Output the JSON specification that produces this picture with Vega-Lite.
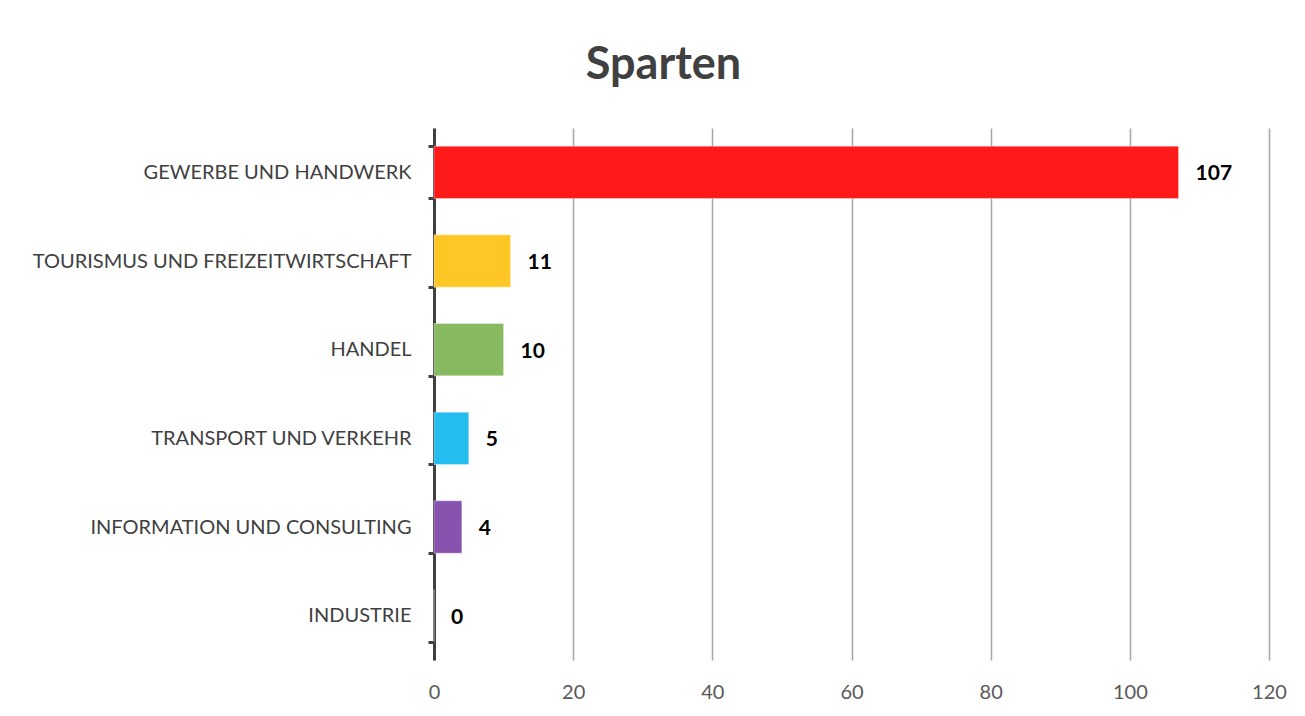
{
  "$schema": "https://vega.github.io/schema/vega-lite/v6.json",
  "autosize": {"type": "none"},
  "padding": {"left": 434, "top": 128, "right": 36, "bottom": 56},
  "width": 835,
  "height": 532,
  "background": "white",
  "title": {
    "text": "Sparten",
    "font": "Lato",
    "fontSize": 45,
    "fontWeight": "bold",
    "color": "#404040",
    "anchor": "middle",
    "dx": -188,
    "offset": 30
  },
  "config": {
    "view": {"stroke": null},
    "font": "Lato"
  },
  "data": {
    "values": [
      {"sparte": "GEWERBE UND HANDWERK", "anzahl": 107, "farbe": "#FF1A1A"},
      {"sparte": "TOURISMUS UND FREIZEITWIRTSCHAFT", "anzahl": 11, "farbe": "#FFC726"},
      {"sparte": "HANDEL", "anzahl": 10, "farbe": "#87B961"},
      {"sparte": "TRANSPORT UND VERKEHR", "anzahl": 5, "farbe": "#25BDEF"},
      {"sparte": "INFORMATION UND CONSULTING", "anzahl": 4, "farbe": "#8751AE"},
      {"sparte": "INDUSTRIE", "anzahl": 0, "farbe": "#8751AE"}
    ]
  },
  "encoding": {
    "y": {
      "field": "sparte",
      "type": "nominal",
      "sort": null,
      "scale": {"paddingInner": 0.41, "paddingOuter": 0.205},
      "axis": {
        "title": null,
        "domainColor": "#404040",
        "domainWidth": 3,
        "tickColor": "#404040",
        "tickWidth": 3,
        "tickSize": 6,
        "tickBand": "extent",
        "labelFont": "Lato",
        "labelFontSize": 20,
        "labelColor": "#404040",
        "labelPadding": 17,
        "labelLimit": 500,
        "grid": false
      }
    },
    "x": {
      "field": "anzahl",
      "type": "quantitative",
      "scale": {"domain": [0, 120], "nice": false},
      "axis": {
        "title": null,
        "values": [0, 20, 40, 60, 80, 100, 120],
        "domain": false,
        "ticks": false,
        "labelFlush": false,
        "labelFont": "Lato",
        "labelFontSize": 20,
        "labelColor": "#595959",
        "labelPadding": 22,
        "grid": true,
        "gridColor": "#A6A6A6",
        "gridWidth": 1.5
      }
    }
  },
  "layer": [
    {
      "mark": {"type": "bar", "strokeWidth": 1, "strokeOpacity": 0.35, "stroke": "white"},
      "encoding": {
        "color": {"field": "farbe", "type": "nominal", "scale": null}
      }
    },
    {
      "mark": {
        "type": "text",
        "align": "left",
        "baseline": "middle",
        "dx": 17,
        "dy": 2,
        "font": "Lato",
        "fontSize": 21,
        "fontWeight": "bold",
        "color": "black"
      },
      "encoding": {
        "text": {"field": "anzahl", "type": "quantitative"}
      }
    }
  ]
}
